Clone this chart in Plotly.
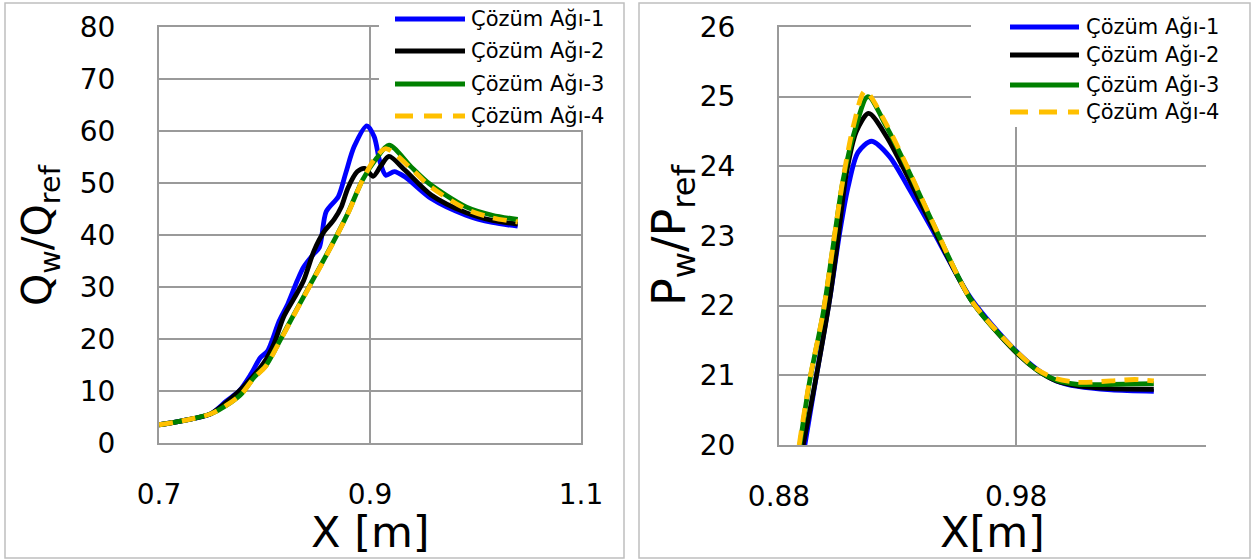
import plotly.graph_objects as go

# ---- series definitions -------------------------------------------------
SERIES_NAMES = ["Çözüm Ağı-1", "Çözüm Ağı-2", "Çözüm Ağı-3", "Çözüm Ağı-4"]
SERIES_COLORS = ["#0000FF", "#000000", "#008000", "#FFC000"]
SERIES_DASH = ["solid", "solid", "solid", "14px,9px"]

# ---- wall heat flux ratio Qw/Qref along X [m] ----------------------------
q_x1 = [0.700, 0.723, 0.749, 0.764, 0.776, 0.787, 0.796, 0.803, 0.807, 0.814,
        0.822, 0.831, 0.837, 0.846, 0.852, 0.8585, 0.870, 0.877, 0.885, 0.897,
        0.904, 0.909, 0.915, 0.923, 0.933, 0.958, 0.991, 1.016, 1.040]
q_y1 = [3.5, 4.3, 5.6, 8.1, 10.0, 13.2, 16.4, 17.7, 19.6, 23.5,
        26.7, 31.2, 33.8, 36.2, 37.6, 44.5, 47.4, 51.9, 57.0, 61.0,
        58.9, 54.4, 51.5, 52.2, 51.2, 47.0, 43.8, 42.4, 41.7]

q_x2 = [0.700, 0.723, 0.749, 0.765, 0.780, 0.799, 0.809, 0.818, 0.828, 0.837,
        0.847, 0.856, 0.866, 0.873, 0.879, 0.888, 0.895, 0.903, 0.910, 0.918,
        0.933, 0.958, 0.991, 1.016, 1.040]
q_y2 = [3.5, 4.3, 5.6, 8.0, 10.8, 15.3, 19.1, 24.2, 27.8, 31.2,
        37.0, 40.5, 43.0, 45.5, 49.0, 52.2, 52.8, 51.3, 53.2, 55.1,
        52.5, 47.7, 44.3, 42.8, 42.1]

q_x3 = [0.700, 0.723, 0.749, 0.768, 0.778, 0.790, 0.801, 0.812, 0.822, 0.833,
        0.844, 0.863, 0.879, 0.893, 0.906, 0.918, 0.939, 0.956, 0.991, 1.016,
        1.040]
q_y3 = [3.5, 4.3, 5.6, 7.8, 9.4, 12.6, 14.8, 18.7, 22.5, 26.6,
        30.7, 37.8, 44.2, 50.6, 54.7, 57.3, 53.1, 49.9, 45.4, 43.8,
        43.0]

q_x4 = [0.700, 0.723, 0.749, 0.768, 0.778, 0.790, 0.801, 0.812, 0.822, 0.833,
        0.844, 0.863, 0.879, 0.893, 0.905, 0.915, 0.939, 0.956, 0.991, 1.016,
        1.040]
q_y4 = [3.5, 4.3, 5.6, 7.8, 9.4, 12.5, 14.7, 18.6, 22.4, 26.5,
        30.6, 37.7, 44.1, 50.6, 54.8, 56.6, 52.8, 49.5, 45.0, 43.3,
        42.5]

# ---- wall pressure ratio Pw/Pref along X [m] -----------------------------
p_x1 = [0.8909, 0.8958, 0.9014, 0.9056, 0.9091, 0.9133, 0.919, 0.9266, 0.9343,
        0.9445, 0.961, 0.979, 0.989, 0.997, 1.006, 1.020, 1.038]
p_y1 = [20.0, 21.0, 22.1, 23.05, 23.7, 24.2, 24.36, 24.14, 23.71,
        23.1, 22.1, 21.38, 21.08, 20.92, 20.84, 20.79, 20.77]

p_x2 = [0.8902, 0.8958, 0.9014, 0.9050, 0.9084, 0.9126, 0.9178, 0.9253, 0.9343,
        0.9445, 0.961, 0.979, 0.989, 0.997, 1.006, 1.020, 1.038]
p_y2 = [20.0, 21.0, 22.1, 23.0, 23.9, 24.5, 24.76, 24.43, 23.85,
        23.15, 22.08, 21.36, 21.07, 20.92, 20.85, 20.81, 20.80]

p_x3 = [0.8888, 0.8930, 0.8986, 0.9028, 0.9070, 0.9120, 0.9175, 0.9253, 0.9337,
        0.9445, 0.961, 0.979, 0.989, 0.997, 1.006, 1.020, 1.038]
p_y3 = [20.0, 20.93, 21.89, 22.85, 23.8, 24.52, 25.0, 24.57, 24.0,
        23.21, 22.08, 21.37, 21.07, 20.93, 20.87, 20.87, 20.88]

p_x4 = [0.8885, 0.8930, 0.8986, 0.9028, 0.9070, 0.9115, 0.9163, 0.9253, 0.9337,
        0.9445, 0.961, 0.979, 0.989, 0.997, 1.006, 1.020, 1.030, 1.038]
p_y4 = [20.0, 20.95, 21.9, 22.87, 23.82, 24.6, 25.08, 24.6, 24.02,
        23.22, 22.08, 21.38, 21.08, 20.95, 20.9, 20.92, 20.94, 20.92]

q_series = [(q_x1, q_y1), (q_x2, q_y2), (q_x3, q_y3), (q_x4, q_y4)]
p_series = [(p_x1, p_y1), (p_x2, p_y2), (p_x3, p_y3), (p_x4, p_y4)]

FONT = "DejaVu Sans"
GRID = "#9A9A9A"
W, H = 1252, 560


def px(x):
    return x / W


def py(y):
    return 1 - y / H


fig = go.Figure()

for (xs, ys), name, color, dash in zip(q_series, SERIES_NAMES, SERIES_COLORS, SERIES_DASH):
    fig.add_trace(go.Scatter(
        x=xs, y=ys, name=name, mode="lines", xaxis="x", yaxis="y",
        line=dict(color=color, width=4.8, dash=dash, shape="spline", smoothing=0.8),
        showlegend=False,
    ))

for (xs, ys), name, color, dash in zip(p_series, SERIES_NAMES, SERIES_COLORS, SERIES_DASH):
    fig.add_trace(go.Scatter(
        x=xs, y=ys, name=name, mode="lines", xaxis="x2", yaxis="y2",
        line=dict(color=color, width=4.8, dash=dash, shape="spline", smoothing=0.8),
        showlegend=False,
    ))

axis_common = dict(
    showgrid=True, gridcolor=GRID, gridwidth=2,
    showline=True, linecolor=GRID, linewidth=2,
    zeroline=False, ticks="", fixedrange=True, automargin=False,
    tickfont=dict(family=FONT, size=28, color="#000000"),
)

fig.update_layout(
    template="none",
    width=W, height=H, autosize=False,
    margin=dict(l=0, r=0, t=0, b=0, pad=0),
    paper_bgcolor="white", plot_bgcolor="white",
    showlegend=False,
    xaxis=dict(domain=[px(159), px(581)], range=[0.7, 1.1], tick0=0.7, dtick=0.2,
               anchor="y", mirror=True, ticklabelstandoff=25, **axis_common),
    yaxis=dict(domain=[py(443), py(27)], range=[0, 80], dtick=10,
               anchor="x", mirror=True, ticklabelstandoff=36, **axis_common),
    xaxis2=dict(domain=[px(779), px(1206)], range=[0.88, 1.06], tick0=0.88, dtick=0.1,
                anchor="y2", mirror=True, ticklabelstandoff=25, **axis_common),
    yaxis2=dict(domain=[py(445), py(27)], range=[20, 26], dtick=1,
                anchor="x2", mirror=False, ticklabelstandoff=36, **axis_common),
)

shapes = []
annotations = []

# panel frames
for x0, x1 in [(5, 624), (639, 1250)]:
    shapes.append(dict(type="rect", xref="paper", yref="paper",
                       x0=px(x0), x1=px(x1), y0=py(558), y1=py(3),
                       line=dict(color="#BFBFBF", width=1.5), layer="below"))

# legends drawn as line samples with labels on a white box
legend_specs = [
    dict(box=(379, 612, 5, 130), line_x=(395, 465), text_x=469, rows=[19, 51, 84, 116]),
    dict(box=(971, 1247, 5, 127), line_x=(1010, 1079), text_x=1084, rows=[27, 55, 85, 112]),
]
for spec in legend_specs:
    bx0, bx1, by0, by1 = spec["box"]
    shapes.append(dict(type="rect", xref="paper", yref="paper",
                       x0=px(bx0), x1=px(bx1), y0=py(by1), y1=py(by0),
                       fillcolor="white", line=dict(width=0), layer="above"))
    for name, color, dash, row in zip(SERIES_NAMES, SERIES_COLORS, SERIES_DASH, spec["rows"]):
        shapes.append(dict(type="line", xref="paper", yref="paper",
                           x0=px(spec["line_x"][0]), x1=px(spec["line_x"][1]),
                           y0=py(row), y1=py(row),
                           line=dict(color=color, width=5,
                                     dash="18px,11px" if dash != "solid" else "solid"),
                           layer="above"))
        annotations.append(dict(xref="paper", yref="paper", x=px(spec["text_x"]), y=py(row),
                                xanchor="left", yanchor="middle", showarrow=False,
                                text=name, font=dict(family=FONT, size=21, color="#000000")))

# axis titles
annotations += [
    dict(xref="paper", yref="paper", x=px(370), y=py(532), xanchor="center", yanchor="middle",
         showarrow=False, text="X [m]", font=dict(family=FONT, size=43, color="#000000")),
    dict(xref="paper", yref="paper", x=px(993), y=py(532), xanchor="center", yanchor="middle",
         showarrow=False, text="X[m]", font=dict(family=FONT, size=43, color="#000000")),
    dict(xref="paper", yref="paper", x=px(40), y=py(235), xanchor="center", yanchor="middle",
         showarrow=False, textangle=-90, text="Q<sub>w</sub>/Q<sub>ref</sub>",
         font=dict(family=FONT, size=41, color="#000000")),
    dict(xref="paper", yref="paper", x=px(672), y=py(235), xanchor="center", yanchor="middle",
         showarrow=False, textangle=-90, text="P<sub>w</sub>/P<sub>ref</sub>",
         font=dict(family=FONT, size=46, color="#000000")),
]

fig.update_layout(shapes=shapes, annotations=annotations)
fig.write_html("out.html")
